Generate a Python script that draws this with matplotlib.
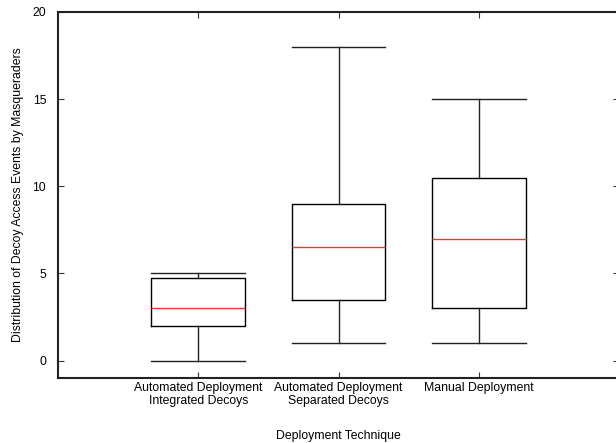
import matplotlib
matplotlib.use("Agg")
import matplotlib.pyplot as plt

categories = ["Automated Deployment\nIntegrated Decoys",
              "Automated Deployment\nSeparated Decoys",
              "Manual Deployment"]
whislo = [0, 1, 1]
q1 = [2, 3.5, 3]
med = [3, 6.5, 7]
q3 = [4.75, 9, 10.5]
whishi = [5, 18, 15]
yticks = [0, 5, 10, 15, 20]

plt.rcParams['font.family'] = ['Liberation Sans', 'DejaVu Sans']

W, H = 616, 443
fig = plt.figure(figsize=(W / 100, H / 100), dpi=100)
left, right, top, bottom = 58, 619, 12, 378
ax = fig.add_axes([left / W, 1 - bottom / H, (right - left) / W, (bottom - top) / H])

stats = []
for i in range(len(categories)):
    stats.append(dict(whislo=whislo[i], q1=q1[i], med=med[i], q3=q3[i],
                      whishi=whishi[i], fliers=[], label=categories[i]))

line_c = "#222222"
ax.bxp(stats, positions=[1, 2, 3], widths=0.67, showfliers=False,
       boxprops=dict(color="black", linewidth=1.0),
       whiskerprops=dict(color=line_c, linewidth=1.0),
       capprops=dict(color=line_c, linewidth=1.0),
       medianprops=dict(color="#ff3030", linewidth=1.0),
       capwidths=0.67)

fs = 8.8
ax.set_xlim(0, 4)
ax.set_ylim(-1, 20)
ax.set_yticks(yticks)
ax.set_xticks([1, 2, 3])
ax.set_xticklabels(categories, linespacing=1.1)
ax.tick_params(direction="in", top=True, right=True, labelsize=fs, length=4,
               width=0.8, color="#333333")
ax.tick_params(axis="y", pad=8.5)
ax.tick_params(axis="x", pad=3)
for s in ax.spines.values():
    s.set_linewidth(1.5)
    s.set_color("#222222")

ax.set_ylabel("Distribution of Decoy Access Events by Masqueraders", fontsize=fs, labelpad=6.5)
ax.set_xlabel("Deployment Technique", fontsize=fs, labelpad=16.5)

fig.savefig("out.png", dpi=100)
